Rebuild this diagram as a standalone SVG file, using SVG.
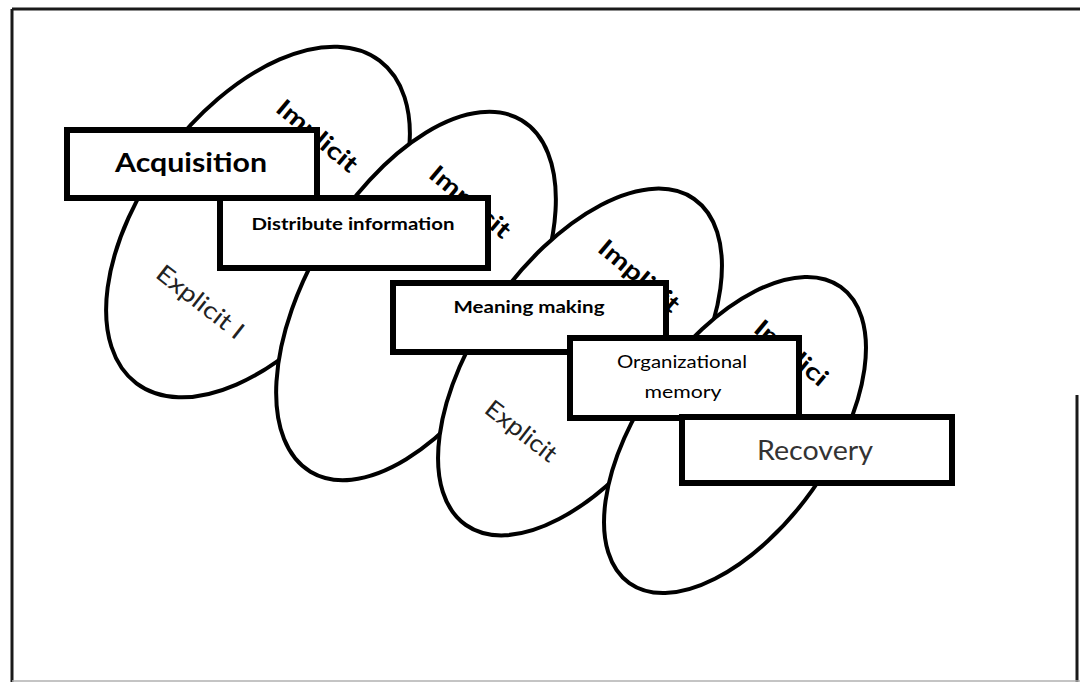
<svg xmlns="http://www.w3.org/2000/svg" width="1080" height="682" viewBox="0 0 1080 682">
<style>
.frame{stroke:#1a1a1a;stroke-width:3;fill:none}
.oval{fill:#fff;stroke:#000;stroke-width:4}
.box{fill:#fff;stroke:#000;stroke-width:6}
.t{font-family:Lato,"Liberation Sans",sans-serif;fill:#000}
.b{font-weight:bold}
.imp{font-family:Lato,"Liberation Sans",sans-serif;font-weight:bold;font-size:24px;fill:#000}
.exp{font-family:Lato,"Liberation Sans",sans-serif;font-size:24px;fill:#222}
</style>
<rect width="1080" height="682" fill="#fff"/>
<g id="frame">
<line class="frame" x1="12" y1="9" x2="1080" y2="9"/>
<line class="frame" x1="12" y1="9" x2="12" y2="682"/>
<line class="frame" x1="1077" y1="395" x2="1077" y2="682"/>
<line x1="12" y1="681" x2="1080" y2="681" stroke="#b0b0b0" stroke-width="1.5"/>
</g>
<g id="oval1">
<ellipse class="oval" cx="258" cy="222" rx="202" ry="114" transform="rotate(-53 258 222)"/>
<text class="imp" x="318" y="135" text-anchor="middle" dominant-baseline="central" textLength="98" lengthAdjust="spacingAndGlyphs" transform="rotate(40 318 135)">Implicit</text>
<text class="exp" x="201" y="301" text-anchor="middle" dominant-baseline="central" textLength="104" lengthAdjust="spacingAndGlyphs" transform="rotate(38 201 301)">Explicit I</text>
</g>
<g id="oval2">
<ellipse class="oval" cx="416" cy="296" rx="205" ry="107" transform="rotate(-59 416 296)"/>
<text class="imp" x="471" y="201" text-anchor="middle" dominant-baseline="central" textLength="98" lengthAdjust="spacingAndGlyphs" transform="rotate(40 471 201)">Implicit</text>
</g>
<g id="oval3">
<ellipse class="oval" cx="580" cy="362" rx="199" ry="103" transform="rotate(-55 580 362)"/>
<text class="imp" x="640" y="275" text-anchor="middle" dominant-baseline="central" textLength="98" lengthAdjust="spacingAndGlyphs" transform="rotate(40 640 275)">Implicit</text>
<text class="exp" x="522" y="430" text-anchor="middle" dominant-baseline="central" textLength="84" lengthAdjust="spacingAndGlyphs" transform="rotate(38 522 430)">Explicit</text>
</g>
<g id="oval4">
<ellipse class="oval" cx="735" cy="435" rx="182" ry="95" transform="rotate(-54.5 735 435)"/>
<text class="imp" x="792" y="352" text-anchor="middle" dominant-baseline="central" textLength="88" lengthAdjust="spacingAndGlyphs" transform="rotate(40 792 352)">Implici</text>
</g>
<g id="acquisition">
<rect class="box" x="67" y="130" width="250" height="68"/>
<text class="t b" x="191" y="172" font-size="26" text-anchor="middle" textLength="152" lengthAdjust="spacingAndGlyphs">Acquisition</text>
</g>
<g id="distribute">
<rect class="box" x="220" y="198" width="268" height="70"/>
<text class="t b" x="353" y="230" font-size="17" text-anchor="middle" textLength="203" lengthAdjust="spacingAndGlyphs">Distribute information</text>
</g>
<g id="meaning">
<rect class="box" x="393" y="283" width="273" height="69"/>
<text class="t b" x="529" y="313" font-size="17" text-anchor="middle" textLength="151" lengthAdjust="spacingAndGlyphs">Meaning making</text>
</g>
<g id="memory">
<rect class="box" x="570" y="338" width="229" height="80"/>
<text class="t" x="682" y="368" font-size="17" text-anchor="middle" textLength="130" lengthAdjust="spacingAndGlyphs">Organizational</text>
<text class="t" x="683" y="398" font-size="17" text-anchor="middle" textLength="77" lengthAdjust="spacingAndGlyphs">memory</text>
</g>
<g id="recovery">
<rect class="box" x="682" y="417" width="270" height="66"/>
<text class="t" x="815" y="460" font-size="27" style="fill:#333" text-anchor="middle" textLength="116" lengthAdjust="spacingAndGlyphs">Recovery</text>
</g>
</svg>
